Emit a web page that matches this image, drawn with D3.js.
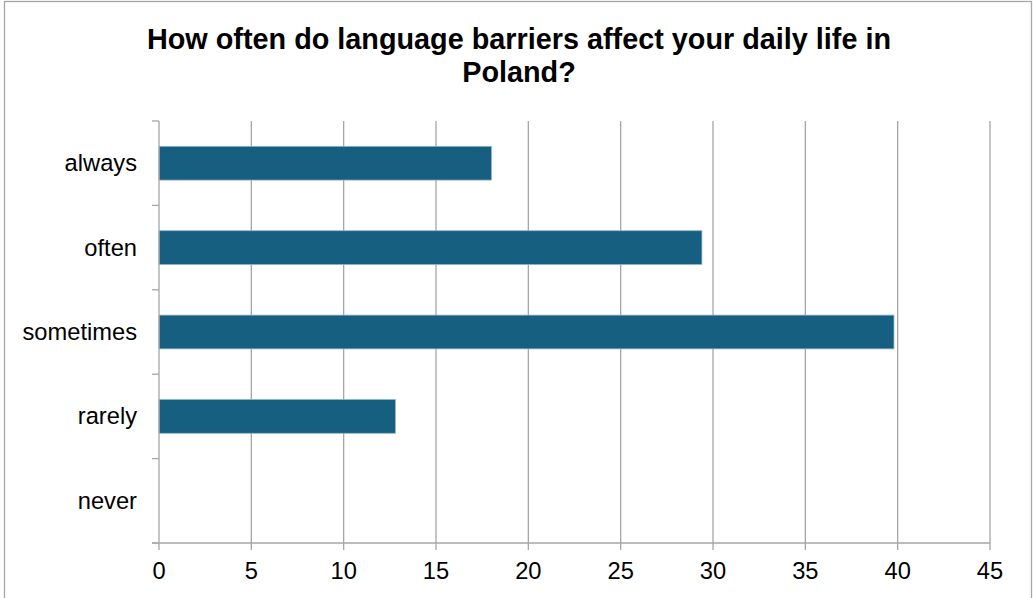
<!DOCTYPE html>
<html>
<head>
<meta charset="utf-8">
<script src="https://cdn.jsdelivr.net/npm/d3@7"></script>
<style>
  html, body { margin: 0; padding: 0; background: #fff; }
  svg { display: block; }
</style>
</head>
<body>
<svg id="chart" width="1033" height="598"></svg>
<script>
// Survey answers (percent of respondents)
const categories = ["always", "often", "sometimes", "rarely", "never"];
const values = [18.0, 29.4, 39.8, 12.8, 0];
const xTicks = [0, 5, 10, 15, 20, 25, 30, 35, 40, 45];
const titleLines = ["How often do language barriers affect your daily life in", "Poland?"];

const W = 1033, H = 598;
const margin = { left: 159, right: 43, top: 121, bottom: 55 };
const svg = d3.select("#chart");
const font = "Liberation Sans, Arial, sans-serif";

// outer chart frame
svg.append("rect")
  .attr("x", 4.5).attr("y", 1.5)
  .attr("width", 1027).attr("height", 620)
  .attr("fill", "#fff").attr("stroke", "#a6a6a6").attr("stroke-width", 1.3);

const x = d3.scaleLinear().domain([0, 45]).range([margin.left, W - margin.right]);
const y = d3.scaleBand().domain(categories)
  .range([margin.top, H - margin.bottom]).paddingInner(0.6).paddingOuter(0.3);

const gridColor = "#a6a6a6";
const plotTop = margin.top, plotBottom = H - margin.bottom;

// vertical gridlines (extend down to act as ticks)
svg.append("g").selectAll("line").data(xTicks.filter(t => t > 0)).join("line")
  .attr("x1", d => x(d)).attr("x2", d => x(d))
  .attr("y1", plotTop).attr("y2", plotBottom + 7)
  .attr("stroke", gridColor).attr("stroke-width", 1.3);

// bars
svg.append("g").selectAll("rect").data(categories).join("rect")
  .attr("x", x(0))
  .attr("y", d => y(d))
  .attr("width", (d, i) => x(values[i]) - x(0))
  .attr("height", y.bandwidth())
  .attr("fill", "#175f81")
  .attr("stroke", "#8fb3c6").attr("stroke-width", 0.8)
  .attr("display", (d, i) => values[i] > 0 ? null : "none");

// category axis line with boundary ticks
const step = (plotBottom - plotTop) / categories.length;
const bounds = d3.range(categories.length + 1).map(i => plotTop + i * step);
svg.append("line")
  .attr("x1", x(0)).attr("x2", x(0))
  .attr("y1", plotTop).attr("y2", plotBottom + 7)
  .attr("stroke", gridColor).attr("stroke-width", 1.3);
svg.append("g").selectAll("line").data(bounds).join("line")
  .attr("x1", x(0) - 7).attr("x2", x(0))
  .attr("y1", d => d).attr("y2", d => d)
  .attr("stroke", gridColor).attr("stroke-width", 1.3);

// value axis line
svg.append("line")
  .attr("x1", x(0) - 7).attr("x2", x(45))
  .attr("y1", plotBottom).attr("y2", plotBottom)
  .attr("stroke", gridColor).attr("stroke-width", 1.3);

// category labels
svg.append("g").selectAll("text").data(categories).join("text")
  .attr("x", 137)
  .attr("y", d => y(d) + y.bandwidth() / 2 + 8)
  .attr("text-anchor", "end")
  .attr("font-family", font)
  .attr("font-size", 23.7)
  .attr("fill", "#000")
  .text(d => d);

// value tick labels
svg.append("g").selectAll("text").data(xTicks).join("text")
  .attr("x", d => x(d))
  .attr("y", 579)
  .attr("text-anchor", "middle")
  .attr("font-family", font)
  .attr("font-size", 23.7)
  .attr("fill", "#000")
  .text(d => d);

// title
svg.append("g").selectAll("text").data(titleLines).join("text")
  .attr("x", 519)
  .attr("y", (d, i) => 49 + i * 33)
  .attr("text-anchor", "middle")
  .attr("font-family", font)
  .attr("font-weight", "bold")
  .attr("font-size", 28.8)
  .attr("fill", "#000")
  .text(d => d);
</script>
</body>
</html>
